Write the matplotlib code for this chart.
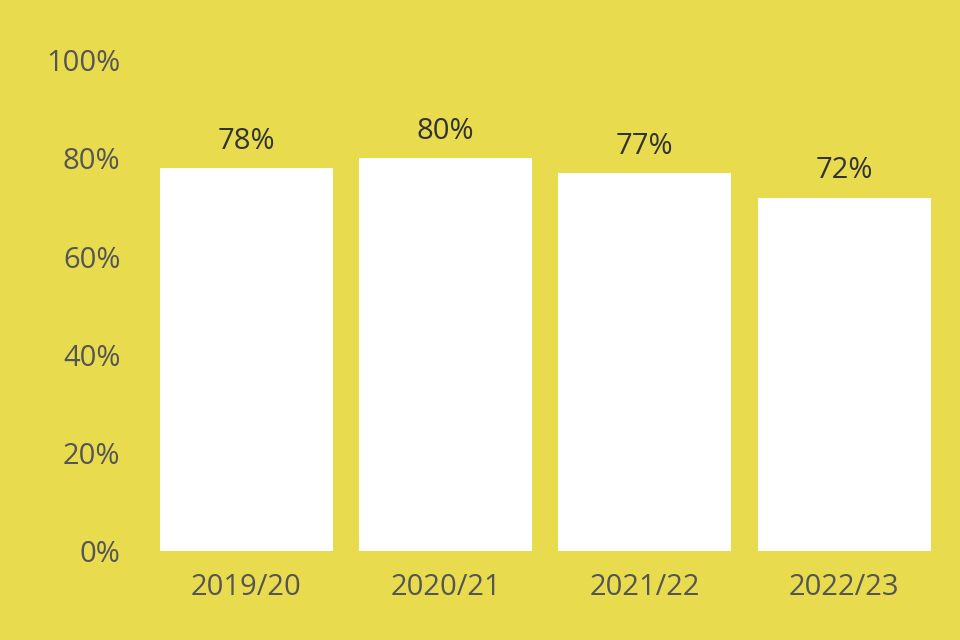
import matplotlib.pyplot as plt

# data
years = ['2019/20', '2020/21', '2021/22', '2022/23']
values = [78, 80, 77, 72]
yticks = [0, 20, 40, 60, 80, 100]

bg = '#E8DC4E'
plt.rcParams['font.family'] = ['Open Sans', 'DejaVu Sans']

fig = plt.figure(figsize=(9.6, 6.4), dpi=100, facecolor=bg)
ax = fig.add_axes([0.153, 0.139, 0.830, 0.767])
ax.set_facecolor(bg)

bars = ax.bar(range(len(years)), values, width=0.868, color='white')
for b, v in zip(bars, values):
    ax.annotate(f'{v}%', (b.get_x() + b.get_width() / 2, v),
                xytext=(0, 9), textcoords='offset points',
                ha='center', va='bottom', fontsize=21, color='#333333')

ax.set_xlim(-0.5, len(years) - 0.5)
ax.set_ylim(0, 100)
ax.set_xticks(range(len(years)))
ax.set_xticklabels(years)
ax.set_yticks(yticks)
ax.set_yticklabels([f'{t}%' for t in yticks])
ax.tick_params(length=0, labelsize=21, colors='#555555')
ax.tick_params(axis='y', pad=19)
ax.tick_params(axis='x', pad=16)
for s in ax.spines.values():
    s.set_visible(False)

fig.savefig('out.png', dpi=100, facecolor=bg)
